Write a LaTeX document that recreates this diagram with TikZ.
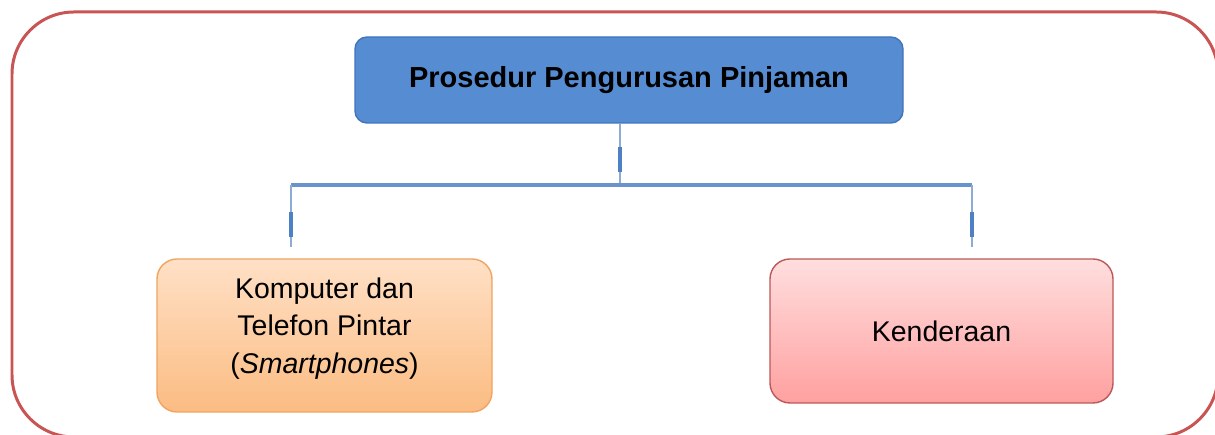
\documentclass[tikz,border=0pt]{standalone}
\usepackage{fontspec}
\setmainfont{Liberation Sans}

\definecolor{framered}{RGB}{200,84,84}
\definecolor{titleblue}{RGB}{86,140,210}
\definecolor{titleedge}{RGB}{66,116,186}
\definecolor{linklight}{RGB}{140,172,214}
\definecolor{linkdark}{RGB}{78,128,196}
\definecolor{gadgettop}{RGB}{255,224,198}
\definecolor{gadgetbot}{RGB}{251,188,130}
\definecolor{gadgetedge}{RGB}{240,164,96}
\definecolor{vehicletop}{RGB}{255,222,222}
\definecolor{vehiclebot}{RGB}{255,160,160}
\definecolor{vehicleedge}{RGB}{188,88,88}

\begin{document}
\begin{tikzpicture}[
  topbox/.style={draw=titleedge, fill=titleblue, line width=0.8pt,
    rounded corners=0.24cm, minimum width=10.96cm, minimum height=1.72cm,
    font=\fontsize{16.5}{20}\selectfont\bfseries},
  itembox/.style={line width=0.8pt, rounded corners=0.4cm, align=center,
    font=\fontsize{16.2}{21.5}\selectfont},
  link/.style={linklight, line width=1.2pt},
  bar/.style={linkdark!85, line width=2.6pt},
  tick/.style={fill=linkdark, inner sep=0pt, minimum width=2.4pt,
    minimum height=0.5cm}
]
\useasboundingbox (0,0) rectangle (24.3,8.7);

% outer frame
\begin{scope}
  \clip (0,0) rectangle (24.3,8.7);
  \draw[framered, line width=1.7pt, rounded corners=1.24cm]
    (0.24,8.46) rectangle (24.36,-0.04);
\end{scope}

% boxes
\node[topbox] (title) at (12.58,7.1) {Prosedur Pengurusan Pinjaman};
\node[itembox, draw=gadgetedge, top color=gadgettop, bottom color=gadgetbot,
  minimum width=6.7cm, minimum height=3.06cm] (gadget) at (6.49,1.99) {};
\node[itembox] (gadgettext) at (6.49,2.13)
  {Komputer dan\\Telefon Pintar\\(\textit{Smartphones})};
\node[itembox, draw=vehicleedge, top color=vehicletop, bottom color=vehiclebot,
  minimum width=6.86cm, minimum height=2.88cm]
  (vehicle) at (18.83,2.08) {Kenderaan};

% branch points
\coordinate (split) at (12.40,5.0);
\coordinate (barL) at (5.82,5.0);
\coordinate (barR) at (19.44,5.0);
\coordinate (endL) at (5.82,3.76);
\coordinate (endR) at (19.44,3.76);

% connectors
\draw[link] (title.south -| split) -- (split)
  node[tick, pos=0.58] (tickT) {};
\draw[bar] (barL) -- (barR);
\draw[link] (barL) -- (endL) node[tick, pos=0.63] (tickL) {};
\draw[link] (barR) -- (endR) node[tick, pos=0.63] (tickR) {};

\end{tikzpicture}
\end{document}
